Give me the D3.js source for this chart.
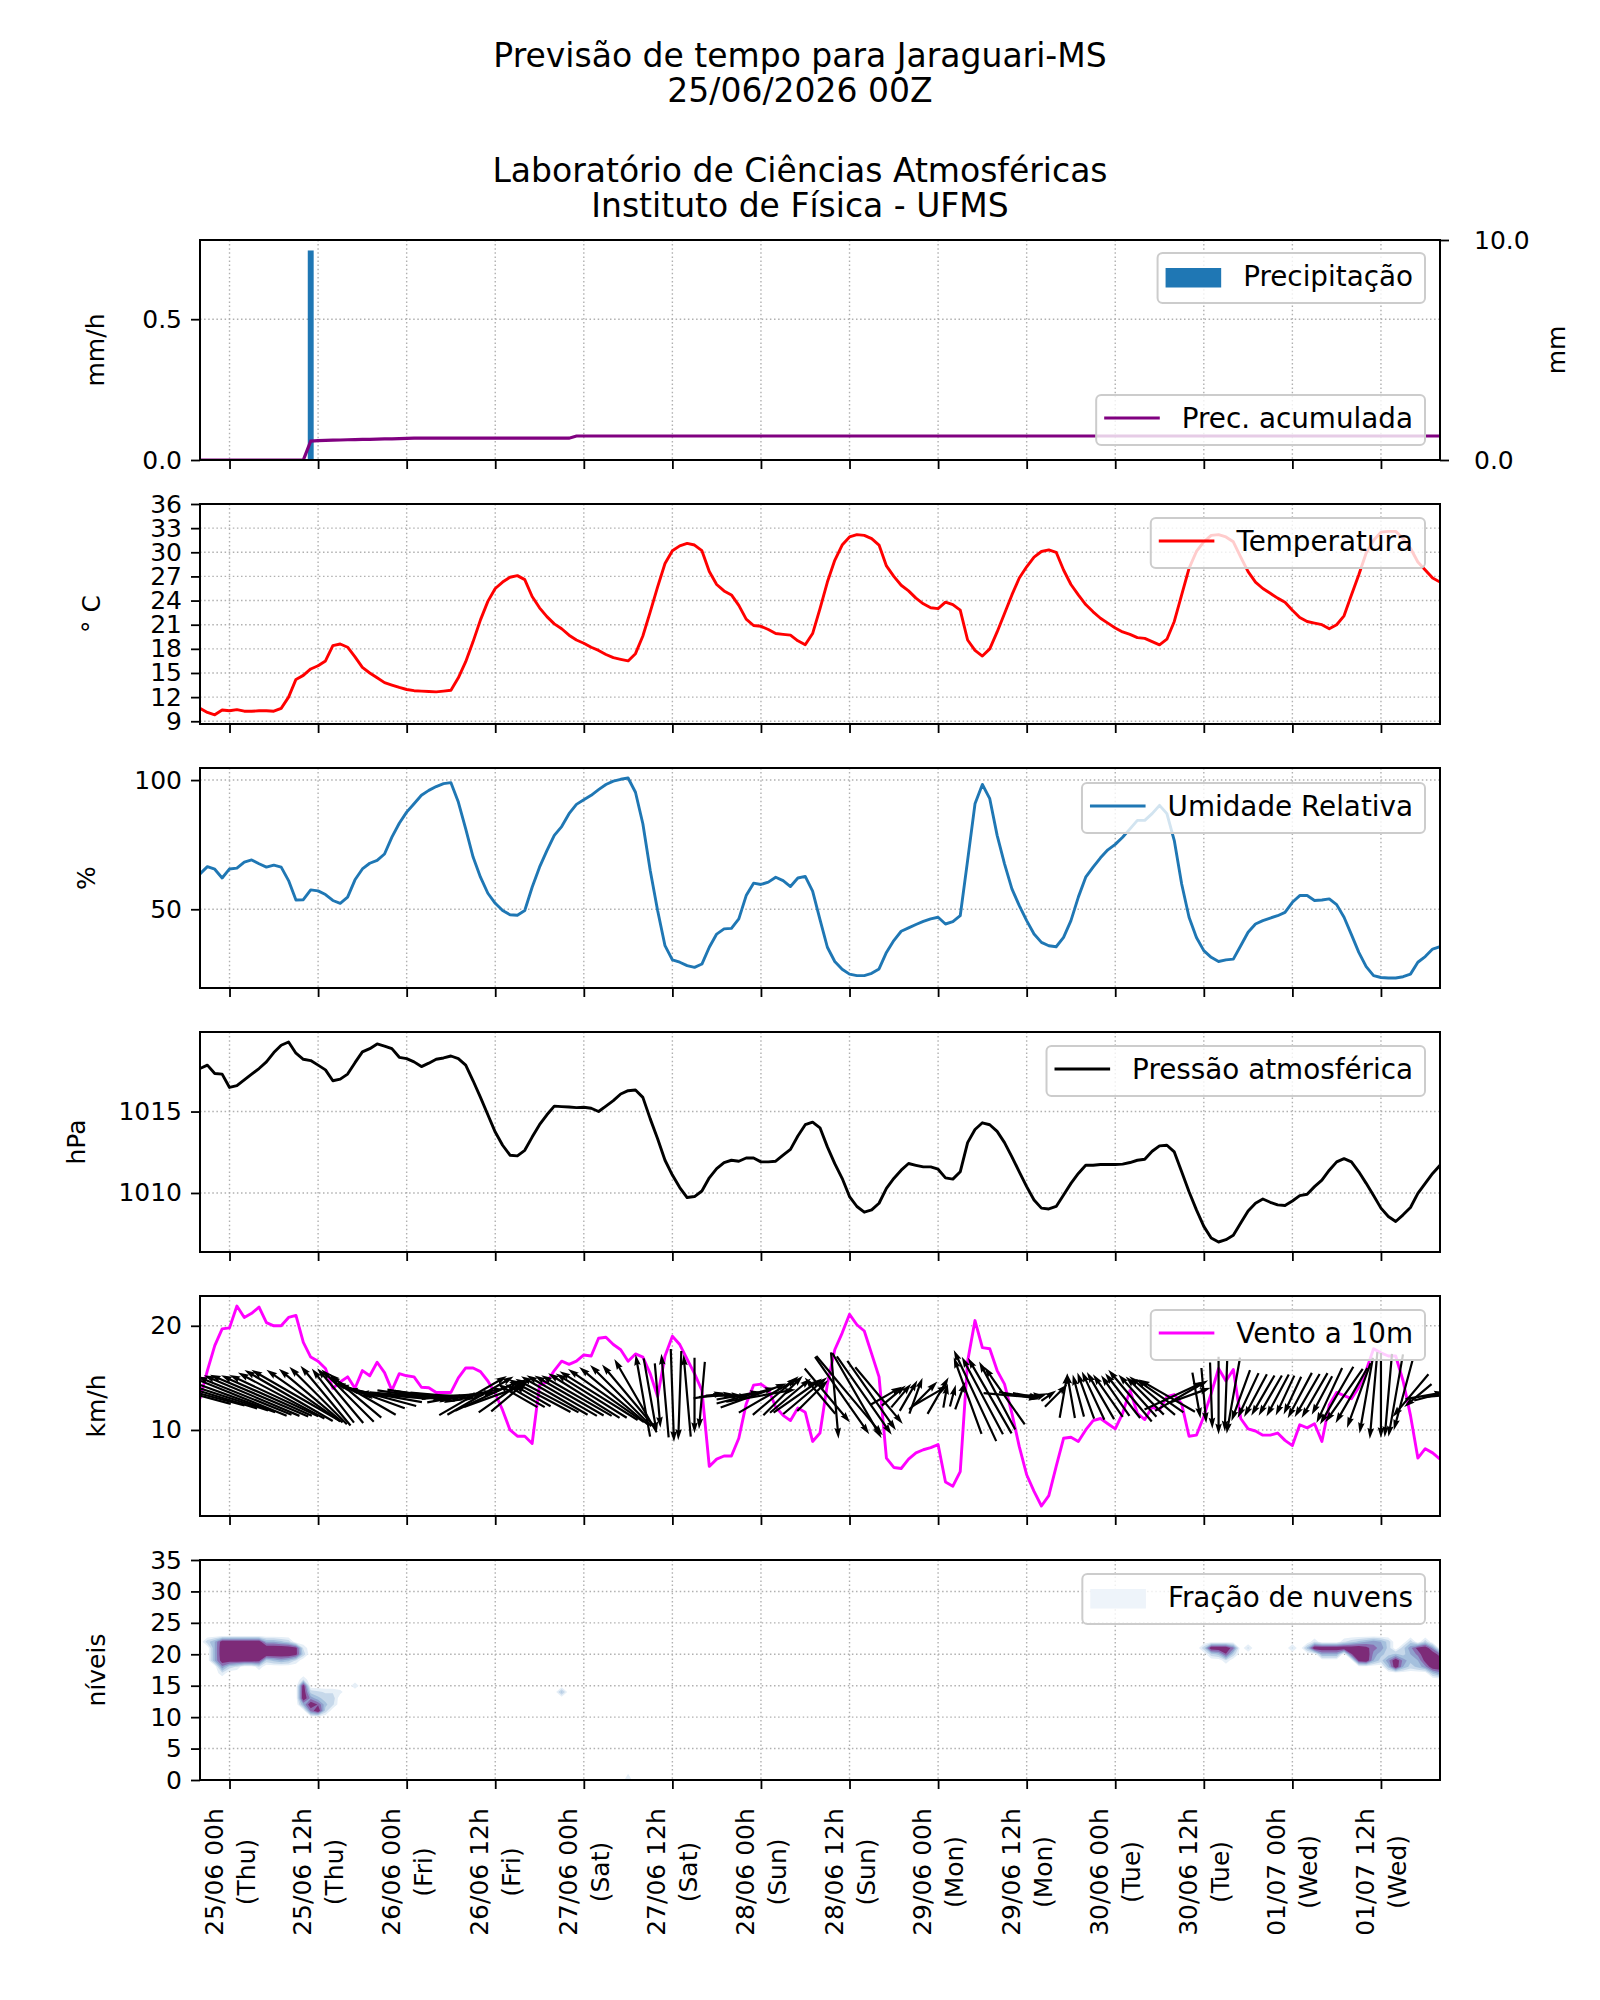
<!DOCTYPE html>
<html>
<head>
<meta charset="utf-8">
<script src="https://cdn.jsdelivr.net/npm/d3@7"></script>
<style>
  body { margin: 0; background: #fff; }
  text { font-family: "DejaVu Sans", sans-serif; fill: #000; }
</style>
</head>
<body>
<svg id="chart" width="1600" height="2000"></svg>
<script>
// hourly series, 24/06 20h (local) -> 01/07 20h
const temperature = [10.6,10.1,9.8,10.4,
  10.3,10.45,10.25,10.25,10.3,10.3,10.25,10.6,12.0,14.2,
  14.7,15.5,15.9,16.5,18.4,18.6,18.2,17.0,15.7,15.0,
  14.4,13.8,13.5,13.2,12.95,12.8,12.75,12.7,12.65,12.75,
  12.85,14.4,16.4,18.9,21.6,23.9,25.5,26.3,26.9,27.1,
  26.6,24.5,23.1,22.0,21.1,20.5,19.7,19.1,18.7,18.2,
  17.8,17.3,16.9,16.7,16.5,17.4,19.6,22.6,25.7,28.6,
  30.2,30.8,31.1,30.9,30.2,27.6,26.0,25.2,24.7,23.4,
  21.7,20.9,20.8,20.4,19.9,19.8,19.7,19.0,18.5,19.9,
  23.0,26.3,29.0,30.9,31.9,32.2,32.1,31.7,30.9,28.3,
  27.0,25.9,25.2,24.3,23.6,23.1,23.0,23.8,23.5,22.8,
  19.1,17.8,17.1,18.0,20.1,22.4,24.7,26.8,28.2,29.4,
  30.1,30.3,30.0,27.8,26.0,24.7,23.5,22.6,21.8,21.2,
  20.6,20.1,19.8,19.4,19.3,18.9,18.5,19.2,21.4,24.7,
  28.0,30.1,31.3,32.1,32.2,31.9,31.3,29.4,27.6,26.3,
  25.5,24.9,24.3,23.8,22.8,21.9,21.4,21.2,21.0,20.5,
  21.0,22.1,24.7,27.2,29.9,31.5,32.5,32.6,32.6,31.7,
  30.5,28.8,27.8,26.8,26.3];

const humidity = [63.7,66.5,65.5,62.1,
  65.6,65.9,68.2,69.1,67.6,66.3,67.1,66.3,61.1,53.6,
  53.7,57.5,57.1,55.7,53.4,52.3,54.7,61.4,65.6,67.8,
  68.9,71.4,77.9,83.3,87.6,90.8,94.1,96.0,97.5,98.6,
  99.0,91.5,81.1,70.2,62.4,56.2,52.3,49.5,47.9,47.7,
  49.5,58.5,66.3,72.7,78.6,82.0,87.0,90.6,92.4,94.1,
  96.3,98.3,99.6,100.3,100.8,95.3,83.1,65.0,49.5,35.9,
  30.4,29.5,28.2,27.5,28.8,35.3,40.4,42.4,42.6,46.3,
  55.3,60.1,59.6,60.5,62.4,61.1,58.8,62.1,62.7,57.0,
  46.0,35.3,29.8,26.8,24.9,24.3,24.3,25.2,26.9,33.3,
  37.9,41.5,42.8,44.1,45.3,46.3,46.9,44.3,45.2,47.5,
  68.9,90.8,98.3,92.8,78.6,67.6,57.9,51.4,45.6,40.4,
  37.2,35.9,35.5,39.1,45.6,54.7,62.4,66.3,69.9,73.0,
  75.1,77.9,81.1,84.4,84.4,87.0,90.2,87.0,76.6,59.8,
  46.9,39.1,34.0,31.4,29.8,30.4,30.7,35.9,41.1,44.3,
  45.6,46.6,47.5,48.8,52.7,55.3,55.3,53.4,53.6,54.0,
  51.8,46.9,40.2,33.3,27.8,24.3,23.6,23.4,23.4,23.9,
  24.9,29.5,31.7,34.6,35.5];

const pressure = [1017.64,1017.85,1017.34,1017.3,
  1016.48,1016.59,1016.95,1017.3,1017.64,1018.05,1018.62,1019.07,1019.27,1018.58,
  1018.21,1018.13,1017.85,1017.56,1016.89,1016.99,1017.3,1018.0,1018.66,1018.86,
  1019.15,1019.02,1018.86,1018.33,1018.25,1018.05,1017.76,1017.97,1018.21,1018.29,
  1018.41,1018.25,1017.85,1016.89,1015.87,1014.8,1013.74,1012.93,1012.32,1012.28,
  1012.62,1013.43,1014.19,1014.8,1015.33,1015.3,1015.28,1015.24,1015.26,1015.2,
  1015.0,1015.33,1015.67,1016.08,1016.28,1016.32,1015.87,1014.55,1013.33,1012.01,
  1011.1,1010.33,1009.72,1009.78,1010.12,1010.93,1011.5,1011.87,1012.01,1011.95,
  1012.15,1012.15,1011.91,1011.91,1011.95,1012.32,1012.68,1013.5,1014.19,1014.35,
  1014.0,1012.83,1011.8,1010.9,1009.78,1009.17,1008.82,1008.96,1009.37,1010.28,
  1010.89,1011.4,1011.81,1011.7,1011.6,1011.6,1011.46,1010.93,1010.85,1011.3,
  1013.09,1013.9,1014.31,1014.19,1013.78,1013.09,1012.22,1011.3,1010.39,1009.57,
  1009.07,1009.02,1009.17,1009.88,1010.59,1011.2,1011.7,1011.7,1011.75,1011.75,
  1011.75,1011.77,1011.87,1012.01,1012.07,1012.56,1012.89,1012.93,1012.52,1011.3,
  1010.08,1008.96,1007.95,1007.24,1006.99,1007.13,1007.4,1008.15,1008.9,1009.37,
  1009.63,1009.43,1009.27,1009.23,1009.51,1009.84,1009.92,1010.39,1010.79,1011.4,
  1011.91,1012.11,1011.91,1011.3,1010.59,1009.84,1009.07,1008.56,1008.25,1008.66,
  1009.11,1009.98,1010.59,1011.2,1011.7];

const windSpeed = [13.0,15.7,18.1,19.7,
  19.8,21.9,20.8,21.2,21.8,20.3,20.0,20.0,20.8,21.0,
  18.4,17.0,16.6,15.9,14.0,14.6,15.1,14.0,15.7,15.2,
  16.5,15.5,13.8,15.4,15.2,15.1,14.1,14.05,13.6,13.6,
  13.6,15.0,15.95,15.95,15.6,14.7,13.5,11.9,10.0,9.4,
  9.4,8.7,14.3,14.6,15.7,16.6,16.3,16.6,17.2,17.1,
  18.8,18.9,18.2,17.7,16.6,17.3,17.0,15.4,13.2,17.1,
  19.0,18.2,16.8,15.4,13.8,6.5,7.2,7.5,7.5,9.2,
  12.5,14.3,14.4,13.9,12.2,11.4,10.9,12.1,11.7,8.9,
  9.7,14.4,17.7,19.3,21.1,20.1,19.5,17.3,15.1,7.3,
  6.4,6.3,7.2,7.8,8.1,8.3,8.6,5.0,4.6,6.0,
  16.6,20.5,17.9,17.8,15.7,14.4,11.6,8.4,5.7,4.1,
  2.7,3.7,6.5,9.2,9.3,8.9,10.0,10.9,11.1,10.6,
  10.1,11.6,13.8,11.6,11.0,12.2,11.9,13.2,13.4,12.5,
  9.4,9.5,11.3,13.5,15.9,14.7,15.8,11.1,10.1,9.9,
  9.5,9.5,9.7,9.0,8.5,10.5,10.2,10.6,8.9,12.4,
  13.6,13.3,13.0,14.1,15.7,17.8,17.4,17.1,17.1,14.7,
  11.4,7.3,8.2,7.8,7.2];

// direction the arrow points to (degrees, 0 = east, 90 = north)
const windDir = [165,165,163,162,
  160,158,158,157,157,156,155,152,150,150,
  145,140,135,130,128,130,135,140,150,160,
  165,170,175,180,-5,-8,-10,-8,-5,-5,
  0,5,10,30,30,25,20,35,40,150,
  150,150,152,152,150,150,150,150,148,148,
  148,145,140,135,130,120,100,-80,-85,95,
  -88,-92,95,-90,-95,10,5,0,-5,10,
  15,20,10,30,40,45,40,35,40,45,
  130,-50,-85,-55,-50,-60,-55,-55,-50,30,
  40,50,60,70,45,30,60,80,75,70,
  110,115,118,120,118,125,-5,-10,-10,0,
  20,35,45,80,100,105,110,115,120,125,
  125,128,130,132,135,140,145,150,25,30,
  20,-80,-85,-88,-90,-92,-100,-110,-115,-118,
  -120,-120,-118,-115,-115,-118,-120,-120,-118,-115,
  -120,-125,-120,-110,-100,-95,-90,-95,-100,-105,
  -130,-140,10,15,5];

// precipitation (mm/h) and accumulated precipitation (mm)
const precipHour = [15];           // index of the only visible bar
const precipValue = [0.744];
const precipAccum = [0,0,0,0,0,0,0,0,0,0,0,0,0,0,0,
  0.86,0.88,0.89,0.9,0.91,0.92,0.93,0.94,0.94,0.95,0.96,0.96,0.97,0.98,0.99,
  0.99,0.99,0.99,0.99,0.99,0.99,0.99,0.99,0.99,0.99,0.99,0.99,0.99,0.99,0.99,0.99,0.99,0.99,0.99,0.99,0.99,
  1.09,1.09,1.09,1.09,1.09,1.09,1.09,1.09,1.09,1.09,1.09,1.09,1.09,1.09,1.09,1.09,1.09,1.09,1.09,1.09,
  1.09,1.09,1.09,1.09,1.09,1.09,1.09,1.09,1.09,1.09,1.09,1.09,1.09,1.09,1.09,1.09,1.09,1.09,1.09,1.09,
  1.09,1.09,1.09,1.09,1.09,1.09,1.09,1.09,1.09,1.09,1.09,1.09,1.09,1.09,1.09,1.09,1.09,1.09,1.09,1.09,
  1.09,1.09,1.09,1.09,1.09,1.09,1.09,1.09,1.09,1.09,1.09,1.09,1.09,1.09,1.09,1.09,1.09,1.09,1.09,1.09,
  1.09,1.09,1.09,1.09,1.09,1.09,1.09,1.09,1.09,1.09,1.09,1.09,1.09,1.09,1.09,1.09,1.09,1.09,1.09,1.09,
  1.09,1.09,1.09,1.09,1.09,1.09,1.09,1.09,1.09,1.09,1.09,1.09,1.09,1.09,1.09,1.09,1.09,1.09];

// cloud fraction cells: [hour index, model level, fraction]
const cloudCells = [
  [1,22,0.3],
  [2,19,0.5],[2,20,0.5],[2,21,0.5],[2,22,0.5],
  [3,19,0.95],[3,20,1],[3,21,1],[3,22,0.95],[3,18,0.6],[3,17,0.2],
  [4,19,0.95],[4,20,1],[4,21,1],[4,22,0.95],[4,18,0.3],
  [5,19,0.95],[5,20,1],[5,21,1],[5,22,0.95],[6,19,0.95],[6,20,1],[6,21,1],[6,22,0.95],
  [7,19,0.95],[7,20,1],[7,21,1],[7,22,0.95],[8,19,0.9],[8,20,1],[8,21,1],[8,22,0.95],
  [8,18,0.2],[5,18,0.2],
  [9,19,0.3],[9,20,1],[9,21,1],[9,22,0.5],[10,19,0.4],[10,20,1],[10,21,1],[10,22,0.5],
  [11,19,0.5],[11,20,1],[11,21,1],[11,22,0.4],[12,19,0.4],[12,20,1],[12,21,1],[12,22,0.3],
  [13,20,0.9],[13,21,0.9],[13,19,0.2],[14,20,0.3],[14,21,0.2],
  [14,12,0.5],[14,13,1],[14,14,1],[14,15,0.95],[14,16,0.2],
  [15,11,0.7],[15,12,1],[15,13,0.6],[15,14,0.3],
  [16,11,1],[16,12,0.8],[16,13,0.4],[16,14,0.25],
  [17,11,0.3],[17,12,0.4],[17,13,0.3],[17,14,0.2],[18,12,0.25],[18,13,0.3],[18,14,0.2],[19,14,0.15],
  [21,15,0.2],[45,13,0.1],[49,14,0.4],[58,0,0.2],[58,1,0.1],
  [136,21,0.3],[137,21,1],[137,20,0.3],[138,21,1],[138,20,0.4],
  [139,21,1],[139,20,0.8],[139,19,0.2],[140,21,0.7],[140,20,0.3],
  [142,21,0.25],[148,21,0.25],
  [150,21,0.4],
  [151,21,1],[151,22,0.2],[152,21,1],[152,20,0.5],[153,21,1],[153,20,0.5],[154,21,1],[154,20,0.5],
  [155,21,1],[155,22,0.2],[156,21,1],[156,20,0.8],[156,22,0.3],
  [157,21,1],[157,20,1],[157,19,0.9],[157,22,0.4],
  [158,21,0.9],[158,20,1],[158,19,1],[158,22,0.5],
  [159,21,0.7],[159,20,0.6],[159,19,0.5],[159,22,0.6],
  [160,22,0.5],[160,21,0.6],[160,20,0.4],[160,19,0.3],
  [161,22,0.3],[161,21,0.3],[161,20,0.3],[161,19,0.6],[161,18,0.4],
  [162,19,1],[162,18,1],[162,20,0.4],
  [163,19,0.6],[163,18,0.5],[163,20,0.3],[163,21,0.3],
  [164,21,0.6],[164,20,0.5],[164,19,0.4],[164,18,0.3],[164,22,0.3],
  [165,21,0.9],[165,20,0.7],[165,19,0.5],[165,18,0.4],
  [166,21,1],[166,20,1],[166,19,0.9],[166,18,0.6],[166,22,0.3],
  [167,20,1],[167,19,1],[167,18,1],[167,21,0.6],[167,17,0.4],
  [168,19,1],[168,18,1],[168,17,0.6],[168,20,0.7]
];

const titleLines = ["Previsão de tempo para Jaraguari-MS", "25/06/2026 00Z",
                    "Laboratório de Ciências Atmosféricas", "Instituto de Física - UFMS"];

const nHours = temperature.length;
const start = Date.UTC(2026, 5, 24, 20);
const hours = d3.range(nHours).map(i => new Date(start + i * 3600e3));

const svg = d3.select("#chart");
const left = 200, right = 1440, panelH = 220;
const tops = [240, 504, 768, 1032, 1296, 1560];
const tickFont = 25, legendFont = 27.8;
const gridColor = "#b0b0b0";

const x = d3.scaleUtc().domain([hours[0], hours[nHours - 1]]).range([left, right]);
const xTicks = x.ticks(d3.utcHour.every(12));

// title
svg.append("g").selectAll("text").data(titleLines).join("text")
  .attr("x", 800).attr("y", (d, i) => [67, 102, 182, 217][i])
  .attr("text-anchor", "middle").attr("font-size", 33).text(d => d);

function padded(vals, ticks) {
  const [lo, hi] = d3.extent(vals), r = hi - lo;
  return [Math.min(lo - 0.05 * r, d3.min(ticks)), Math.max(hi + 0.05 * r, d3.max(ticks))];
}

function makePanel(i, domain, ticks, fmt, label, labelX) {
  const top = tops[i], bottom = top + panelH;
  const y = d3.scaleLinear().domain(domain).range([bottom, top]);
  const g = svg.append("g");
  g.append("clipPath").attr("id", "clip" + i).append("rect")
    .attr("x", left).attr("y", top).attr("width", right - left).attr("height", panelH);
  // grid
  g.append("g").selectAll("line").data(xTicks).join("line")
    .attr("x1", d => x(d)).attr("x2", d => x(d)).attr("y1", top).attr("y2", bottom)
    .attr("stroke", gridColor).attr("stroke-width", 1.4).attr("stroke-dasharray", "1.5,2.6");
  g.append("g").selectAll("line").data(ticks.filter(t => y(t) > top + 1 && y(t) < bottom - 1)).join("line")
    .attr("x1", left).attr("x2", right).attr("y1", d => y(d)).attr("y2", d => y(d))
    .attr("stroke", gridColor).attr("stroke-width", 1.4).attr("stroke-dasharray", "1.5,2.6");
  const plot = g.append("g").attr("clip-path", `url(#clip${i})`);
  const over = svg.append("g");
  // y axis
  over.append("g").attr("transform", `translate(${left},0)`)
    .call(d3.axisLeft(y).tickValues(ticks).tickFormat(fmt).tickSize(9).tickPadding(9))
    .call(a => a.select(".domain").remove())
    .call(a => a.selectAll("line").attr("stroke", "#000").attr("stroke-width", 1.8))
    .call(a => a.selectAll("text").attr("font-size", tickFont).attr("font-family", "DejaVu Sans"));
  // x ticks
  over.append("g").attr("transform", `translate(0,${bottom})`)
    .call(d3.axisBottom(x).tickValues(xTicks).tickFormat("").tickSize(9))
    .call(a => a.select(".domain").remove())
    .call(a => a.selectAll("line").attr("stroke", "#000").attr("stroke-width", 1.8));
  over.append("rect").attr("x", left).attr("y", top).attr("width", right - left).attr("height", panelH)
    .attr("fill", "none").attr("stroke", "#000").attr("stroke-width", 2);
  over.append("text").attr("transform", `translate(${labelX},${top + panelH / 2}) rotate(-90)`)
    .attr("text-anchor", "middle").attr("font-size", tickFont).text(label);
  return { g, plot, over, y, top, bottom };
}

function legend(p, yTop, label, kind, color) {
  const lg = p.over.append("g");
  const box = lg.append("rect");
  const txt = lg.append("text").attr("font-size", legendFont).attr("y", yTop + 33).text(label);
  const tw = txt.node().getComputedTextLength();
  const w = tw + 8 + 55.6 + 22 + 12, x0 = 1425 - w;
  box.attr("x", x0).attr("y", yTop).attr("width", w).attr("height", 50).attr("rx", 5)
    .attr("fill", "#fff").attr("fill-opacity", 0.8).attr("stroke", "#cccccc").attr("stroke-width", 2);
  txt.attr("x", x0 + 8 + 55.6 + 22);
  if (kind === "line") {
    lg.append("line").attr("x1", x0 + 8).attr("x2", x0 + 63.6).attr("y1", yTop + 23).attr("y2", yTop + 23)
      .attr("stroke", color).attr("stroke-width", 2.8);
  } else {
    lg.append("rect").attr("x", x0 + 8).attr("y", yTop + 15).attr("width", 55.6).attr("height", 19.5)
      .attr("fill", color);
  }
}

function drawLine(p, vals, color) {
  p.plot.append("path").datum(vals)
    .attr("d", d3.line().x((d, i) => x(hours[i])).y(d => p.y(d)))
    .attr("fill", "none").attr("stroke", color).attr("stroke-width", 2.9).attr("stroke-linejoin", "round");
}

// panel 1: precipitation
const p1 = makePanel(0, [0, d3.max(precipValue) * 1.05], [0, 0.5], d3.format(".1f"), "mm/h", 104);
const hourW = x(hours[1]) - x(hours[0]);
p1.plot.selectAll("rect.bar").data(precipHour).join("rect").attr("class", "bar")
  .attr("x", d => x(hours[d]) - 0.4 * hourW).attr("width", 0.8 * hourW)
  .attr("y", (d, i) => p1.y(precipValue[i])).attr("height", (d, i) => p1.bottom - p1.y(precipValue[i]))
  .attr("fill", "#1f77b4");
const yAcc = d3.scaleLinear().domain([0, 10]).range([p1.bottom, p1.top]);
p1.plot.append("path").datum(precipAccum)
  .attr("d", d3.line().x((d, i) => x(hours[i])).y(d => yAcc(d)))
  .attr("fill", "none").attr("stroke", "#800080").attr("stroke-width", 3.2);
p1.over.append("g").attr("transform", `translate(${right},0)`)
  .call(d3.axisRight(yAcc).tickValues([0, 10]).tickFormat(d3.format(".1f")).tickSize(9).tickPadding(25))
  .call(a => a.select(".domain").remove())
  .call(a => a.selectAll("line").attr("stroke", "#000").attr("stroke-width", 1.8))
  .call(a => a.selectAll("text").attr("font-size", tickFont).attr("font-family", "DejaVu Sans"));
p1.over.append("text").attr("transform", `translate(1565,${p1.top + panelH / 2}) rotate(-90)`)
  .attr("text-anchor", "middle").attr("font-size", tickFont).text("mm");
legend(p1, p1.top + 13, "Precipitação", "patch", "#1f77b4");
legend(p1, p1.bottom - 65, "Prec. acumulada", "line", "#800080");

// panel 2: temperature
const tTicks = d3.range(9, 37, 3);
const p2 = makePanel(1, padded(temperature, tTicks), tTicks, d3.format("d"), "° C", 100);
drawLine(p2, temperature, "#ff0000");
legend(p2, p2.top + 14, "Temperatura", "line", "#ff0000");

// panel 3: humidity
const p3 = makePanel(2, padded(humidity, [50, 100]), [50, 100], d3.format("d"), "%", 95);
drawLine(p3, humidity, "#1f77b4");
legend(p3, p3.top + 15, "Umidade Relativa", "line", "#1f77b4");

// panel 4: pressure
const p4 = makePanel(3, padded(pressure, [1010, 1015]), [1010, 1015], d3.format("d"), "hPa", 85);
drawLine(p4, pressure, "#000000");
legend(p4, p4.top + 14, "Pressão atmosférica", "line", "#000000");

// panel 5: wind
const p5 = makePanel(4, padded(windSpeed, [10, 20]), [10, 20], d3.format("d"), "km/h", 105);
drawLine(p5, windSpeed, "#ff00ff");
const arrowY = p5.y(13.3), arrowK = 4.9, sw = 2.2;
p5.plot.append("g").selectAll("path").data(windSpeed).join("path")
  .attr("d", (s, i) => {
    const L = s * arrowK, hl = 5 * sw, hal = 4.5 * sw, hw = 3 * sw;
    const pts = [[-L / 2, -sw / 2], [L / 2 - hal, -sw / 2], [L / 2 - hl, -hw / 2], [L / 2, 0],
                 [L / 2 - hl, hw / 2], [L / 2 - hal, sw / 2], [-L / 2, sw / 2]];
    const a = -windDir[i] * Math.PI / 180, c = Math.cos(a), sn = Math.sin(a);
    const cx = x(hours[i]);
    return "M" + pts.map(([u, v]) => [cx + u * c - v * sn, arrowY + u * sn + v * c].join(",")).join("L") + "Z";
  })
  .attr("fill", "#000");
legend(p5, p5.top + 14, "Vento a 10m", "line", "#ff00ff");

// panel 6: cloud fraction
const p6 = makePanel(5, [0, 35], d3.range(0, 36, 5), d3.format("d"), "níveis", 105);
const nLev = 36;
const grid = new Array(nHours * nLev).fill(0);
cloudCells.forEach(([h, l, f]) => { grid[h + l * nHours] = f; });
const thresholds = [0.1, 0.22, 0.36, 0.5, 0.65, 0.82];
const bandColors = ["#e6eff7", "#c6d8ea", "#a5c0dd", "#8f9fcc", "#8a6cb0", "#7d2b78"];
const contours = d3.contours().size([nHours, nLev]).thresholds(thresholds)(grid);
const proj = d3.geoTransform({
  point(px, py) {
    this.stream.point(x(new Date(start + (px - 0.5) * 3600e3)), p6.y(py - 0.5));
  }
});
p6.plot.insert("g", ":first-child").selectAll("path").data(contours).join("path")
  .attr("d", d3.geoPath(proj)).attr("fill", (d, i) => bandColors[i]);
legend(p6, p6.top + 14, "Fração de nuvens", "patch", "#eef4fa");

// x tick labels (bottom)
const fmtDay = d3.utcFormat("%d/%m %Hh"), fmtWeek = d3.utcFormat("(%a)");
const xl = svg.append("g").selectAll("g").data(xTicks).join("g")
  .attr("transform", d => `translate(${x(d)},1872) rotate(-90)`);
xl.append("text").attr("text-anchor", "middle").attr("y", -7).attr("font-size", tickFont).text(d => fmtDay(d));
xl.append("text").attr("text-anchor", "middle").attr("y", 25).attr("font-size", tickFont).text(d => fmtWeek(d));
</script>
</body>
</html>
